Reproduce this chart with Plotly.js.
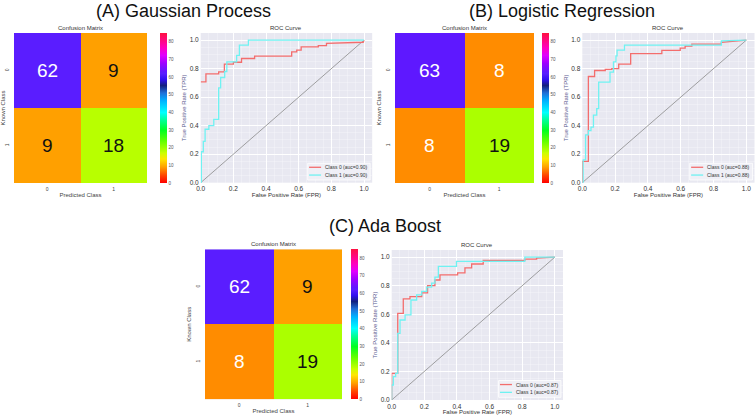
<!DOCTYPE html>
<html>
<head>
<meta charset="utf-8">
<script src="https://cdn.plot.ly/plotly-3.0.1.min.js"></script>
<style>html,body{margin:0;padding:0;background:#fff;}#chart{width:756px;height:415px;}</style>
</head>
<body>
<div id="chart"></div>
<script>
// ---------------- DATA ----------------
const panelTitles = ["(A) Gaussian Process", "(B) Logistic Regression", "(C) Ada Boost"];
const classLabels = ["0", "1"];

const cmGP = [[62, 9], [9, 18]];
const cmLR = [[63, 8], [8, 19]];
const cmAB = [[62, 9], [8, 19]];

const aucGP = ["0.90", "0.90"];
const aucLR = ["0.88", "0.88"];
const aucAB = ["0.87", "0.87"];

const colorbarTicks = [0, 10, 20, 30, 40, 50, 60, 70, 80];
const rocTicks = [0, 0.2, 0.4, 0.6, 0.8, 1.0];

// Gaussian Process ROC
const gpFpr0 = [0, 0.032, 0.032, 0.11, 0.11, 0.145, 0.145, 0.2, 0.2, 0.25, 0.25, 0.33, 0.33, 0.557, 0.557, 0.588, 0.588, 0.615, 0.615, 0.72, 0.72, 0.77, 0.77, 0.995, 1.0];
const gpTpr0 = [0.707, 0.707, 0.764, 0.764, 0.778, 0.778, 0.832, 0.832, 0.845, 0.845, 0.871, 0.871, 0.888, 0.888, 0.918, 0.918, 0.93, 0.93, 0.953, 0.953, 0.962, 0.962, 0.978, 0.985, 1.0];
const gpFpr1 = [0, 0.004, 0.004, 0.016, 0.016, 0.027, 0.027, 0.05, 0.05, 0.08, 0.08, 0.11, 0.11, 0.122, 0.122, 0.147, 0.147, 0.16, 0.16, 0.22, 0.22, 0.237, 0.237, 0.292, 0.292, 1.0];
const gpTpr1 = [0, 0, 0.217, 0.217, 0.29, 0.29, 0.375, 0.375, 0.40, 0.40, 0.444, 0.444, 0.665, 0.665, 0.738, 0.738, 0.78, 0.78, 0.848, 0.848, 0.893, 0.893, 0.965, 0.965, 1.0, 1.0];

// Logistic Regression ROC
const lrFpr0 = [0, 0, 0.037, 0.037, 0.075, 0.075, 0.14, 0.14, 0.18, 0.18, 0.222, 0.222, 0.295, 0.295, 0.485, 0.485, 0.597, 0.597, 0.627, 0.627, 0.668, 0.668, 0.848, 0.848, 1.0];
const lrTpr0 = [0, 0.15, 0.15, 0.745, 0.745, 0.787, 0.787, 0.795, 0.795, 0.80, 0.80, 0.832, 0.832, 0.905, 0.905, 0.928, 0.928, 0.944, 0.944, 0.958, 0.958, 0.972, 0.972, 0.985, 1.0];
const lrFpr1 = [0, 0.005, 0.005, 0.02, 0.02, 0.037, 0.037, 0.053, 0.053, 0.068, 0.068, 0.088, 0.088, 0.1, 0.1, 0.169, 0.169, 0.19, 0.19, 0.205, 0.205, 0.212, 0.212, 0.257, 0.257, 0.848, 0.848, 1.0];
const lrTpr1 = [0, 0, 0.16, 0.16, 0.335, 0.335, 0.365, 0.365, 0.39, 0.39, 0.474, 0.474, 0.52, 0.52, 0.705, 0.705, 0.775, 0.775, 0.848, 0.848, 0.89, 0.89, 0.93, 0.93, 0.965, 0.965, 0.995, 1.0];

// Ada Boost ROC
const abFpr0 = [0, 0, 0.037, 0.037, 0.071, 0.071, 0.112, 0.112, 0.184, 0.184, 0.22, 0.22, 0.265, 0.265, 0.296, 0.296, 0.404, 0.404, 0.449, 0.449, 0.49, 0.49, 0.561, 0.561, 0.816, 0.816, 0.888, 0.888, 1.0];
const abTpr0 = [0, 0.187, 0.187, 0.607, 0.607, 0.708, 0.708, 0.724, 0.724, 0.75, 0.75, 0.80, 0.80, 0.84, 0.84, 0.876, 0.876, 0.89, 0.89, 0.925, 0.925, 0.952, 0.952, 0.977, 0.977, 0.986, 0.986, 0.993, 1.0];
const abFpr1 = [0, 0, 0.01, 0.01, 0.024, 0.024, 0.037, 0.037, 0.051, 0.051, 0.082, 0.082, 0.118, 0.118, 0.153, 0.153, 0.184, 0.184, 0.215, 0.215, 0.245, 0.245, 0.265, 0.265, 0.286, 0.286, 0.397, 0.397, 0.816, 0.816, 1.0];
const abTpr1 = [0, 0.105, 0.105, 0.164, 0.164, 0.187, 0.187, 0.467, 0.467, 0.56, 0.56, 0.596, 0.596, 0.70, 0.70, 0.736, 0.736, 0.76, 0.76, 0.79, 0.79, 0.818, 0.818, 0.86, 0.86, 0.935, 0.935, 0.97, 0.97, 1.0, 1.0];

const diagX = [0, 1];
const diagY = [0, 1];

// ---------------- STYLE ----------------
const W = 756, H = 415;
const FONT = "Liberation Sans, Arial, Helvetica, sans-serif";
const RED = "#f36d6d", CYAN = "#6ff2f2";
const cs = [
  [0, "#ff0000"], [0.05, "#ff4400"], [0.094, "#ff8c00"], [0.106, "#ffa000"],
  [0.16, "#ffe600"], [0.2, "#ccff00"], [0.212, "#b8ff00"], [0.224, "#aaff00"],
  [0.28, "#60ff00"], [0.35, "#00ff20"], [0.42, "#00ff99"], [0.47, "#00ffff"],
  [0.55, "#00b0ff"], [0.6, "#2070d8"], [0.65, "#12207e"], [0.69, "#3010f0"],
  [0.729, "#5a1dff"], [0.741, "#5e18ff"], [0.8, "#a000ff"], [0.85, "#e000ff"],
  [0.9, "#ff00c0"], [1, "#ff1040"]
];

const panels = [
  {cm: cmGP, auc: aucGP, roc: [[gpFpr0, gpTpr0], [gpFpr1, gpTpr1]], title: panelTitles[0],
   heat: [14, 147, 33, 183], cbx: 160, rocBox: [200.7, 372.2, 33, 182.7], titlePos: [183.4, 11],
   txtColors: [["#ffffff", "#111111"], ["#111111", "#111111"]]},
  {cm: cmLR, auc: aucLR, roc: [[lrFpr0, lrTpr0], [lrFpr1, lrTpr1]], title: panelTitles[1],
   heat: [395, 534, 33, 183], cbx: 541.7, rocBox: [582.3, 754.5, 33, 182.7], titlePos: [561.5, 11],
   txtColors: [["#ffffff", "#ffffff"], ["#ffffff", "#111111"]]},
  {cm: cmAB, auc: aucAB, roc: [[abFpr0, abTpr0], [abFpr1, abTpr1]], title: panelTitles[2],
   heat: [205, 342, 249.3, 399.3], cbx: 351, rocBox: [391.7, 563, 250, 400], titlePos: [385, 226],
   txtColors: [["#ffffff", "#111111"], ["#ffffff", "#111111"]]}
];

const data = [];
const layout = {
  width: W, height: H, margin: {l: 0, r: 0, t: 0, b: 0},
  paper_bgcolor: "#ffffff", plot_bgcolor: "#e8e8f1",
  font: {family: FONT, color: "#333"},
  showlegend: false, annotations: [], shapes: []
};

function xd(a, b) { return [a / W, b / W]; }
function yd(top, bot) { return [1 - bot / H, 1 - top / H]; }

panels.forEach((p, i) => {
  const hx = "x" + (2 * i + 1), hy = "y" + (2 * i + 1);
  const rx = "x" + (2 * i + 2), ry = "y" + (2 * i + 2);
  const hxk = "xaxis" + (2 * i + 1), hyk = "yaxis" + (2 * i + 1);
  const rxk = "xaxis" + (2 * i + 2), ryk = "yaxis" + (2 * i + 2);

  // heatmap
  data.push({
    type: "heatmap", z: p.cm, x: classLabels, y: classLabels, xaxis: hx, yaxis: hy,
    colorscale: cs, zmin: 0, zmax: 85, hoverinfo: "z",
    colorbar: {
      x: p.cbx / W, xanchor: "left", xpad: 0, ypad: 0,
      y: 1 - ((p.heat[2] + p.heat[3]) / 2) / H, yanchor: "middle",
      thickness: 7, thicknessmode: "pixels", len: p.heat[3] - p.heat[2], lenmode: "pixels",
      outlinewidth: 0, tickvals: colorbarTicks, ticks: "", ticklabelpad: 2,
      tickfont: {size: 4.5, color: "#555", family: FONT}
    }
  });
  layout[hxk] = {
    domain: xd(p.heat[0], p.heat[1]), anchor: hy, type: "category",
    showgrid: false, zeroline: false, showline: false, ticks: "",
    tickfont: {size: 5, color: "#444"}, ticklabelstandoff: 2,
    title: {text: "Predicted Class", font: {size: 6, color: "#444"}, standoff: 1}
  };
  layout[hyk] = {
    domain: yd(p.heat[2], p.heat[3]), anchor: hx, type: "category", autorange: "reversed",
    showgrid: false, zeroline: false, showline: false, ticks: "", tickangle: -90,
    tickfont: {size: 5, color: "#444"}, ticklabelstandoff: 3,
    title: {text: "Known Class", font: {size: 6, color: "#444"}, standoff: 2}
  };
  // cell numbers
  for (let r = 0; r < 2; r++) for (let c = 0; c < 2; c++) {
    layout.annotations.push({
      xref: hx, yref: hy, x: classLabels[c], y: classLabels[r], text: String(p.cm[r][c]),
      showarrow: false, font: {size: 19, color: p.txtColors[r][c], family: FONT}
    });
  }
  layout.annotations.push({
    xref: hx + " domain", yref: hy + " domain", x: 0.5, y: 1, yanchor: "bottom", yshift: 0,
    text: "Confusion Matrix", showarrow: false, font: {size: 6, color: "#333"}
  });

  // ROC curves
  data.push({type: "scatter", mode: "lines", x: diagX, y: diagY, xaxis: rx, yaxis: ry,
    line: {color: "#8a8a8a", width: 0.8}, hoverinfo: "skip"});
  const colors = [RED, CYAN];
  p.roc.forEach((cur, k) => {
    data.push({type: "scatter", mode: "lines", x: cur[0], y: cur[1], xaxis: rx, yaxis: ry,
      name: "Class " + k + " (auc=" + p.auc[k] + ")",
      line: {color: colors[k], width: 1.3}});
  });
  layout[rxk] = {
    domain: xd(p.rocBox[0], p.rocBox[1]), anchor: ry, range: [0, 1.05],
    tickvals: rocTicks, tickformat: ".1f", showgrid: true, gridcolor: "#ffffff", gridwidth: 1,
    minor: {dtick: 0.05, showgrid: true, gridcolor: "rgba(255,255,255,0.55)", gridwidth: 0.5},
    zeroline: false, showline: false, ticks: "", ticklabelstandoff: 1,
    tickfont: {size: 6.5, color: "#333"},
    title: {text: "False Positive Rate (FPR)", font: {size: 6, color: "#333"}, standoff: 1}
  };
  layout[ryk] = {
    domain: yd(p.rocBox[2], p.rocBox[3]), anchor: rx, range: [0, 1.05],
    tickvals: rocTicks, tickformat: ".1f", showgrid: true, gridcolor: "#ffffff", gridwidth: 1,
    minor: {dtick: 0.05, showgrid: true, gridcolor: "rgba(255,255,255,0.55)", gridwidth: 0.5},
    zeroline: false, showline: false, ticks: "", ticklabelstandoff: 1,
    tickfont: {size: 6.5, color: "#333"},
    title: {text: "True Positive Rate (TPR)", font: {size: 6, color: "#5c5c90"}, standoff: 2}
  };
  layout.annotations.push({
    xref: rx + " domain", yref: ry + " domain", x: 0.5, y: 1, yanchor: "bottom", yshift: 0,
    text: "ROC Curve", showarrow: false, font: {size: 6, color: "#333"}
  });

  // legend box (inside ROC, lower right)
  layout.shapes.push({type: "rect", xref: rx + " domain", yref: ry + " domain",
    x0: 0.624, x1: 0.988, y0: 0.018, y1: 0.13,
    fillcolor: "rgba(240,240,246,0.9)", line: {color: "#ffffff", width: 0.8}});
  [0.103, 0.051].forEach((yy, k) => {
    layout.shapes.push({type: "line", xref: rx + " domain", yref: ry + " domain",
      x0: 0.632, x1: 0.702, y0: yy, y1: yy, line: {color: colors[k], width: 1.3}});
    layout.annotations.push({xref: rx + " domain", yref: ry + " domain", x: 0.712, y: yy,
      xanchor: "left", yanchor: "middle", showarrow: false,
      text: "Class " + k + " (auc=" + p.auc[k] + ")", font: {size: 5, color: "#333"}});
  });

  // panel title
  layout.annotations.push({xref: "paper", yref: "paper", x: p.titlePos[0] / W, y: 1 - p.titlePos[1] / H,
    xanchor: "center", yanchor: "middle", showarrow: false, text: p.title,
    font: {size: 18, color: "#111", family: FONT}});
});

Plotly.newPlot("chart", data, layout, {displayModeBar: false, staticPlot: true});
</script>
</body>
</html>
